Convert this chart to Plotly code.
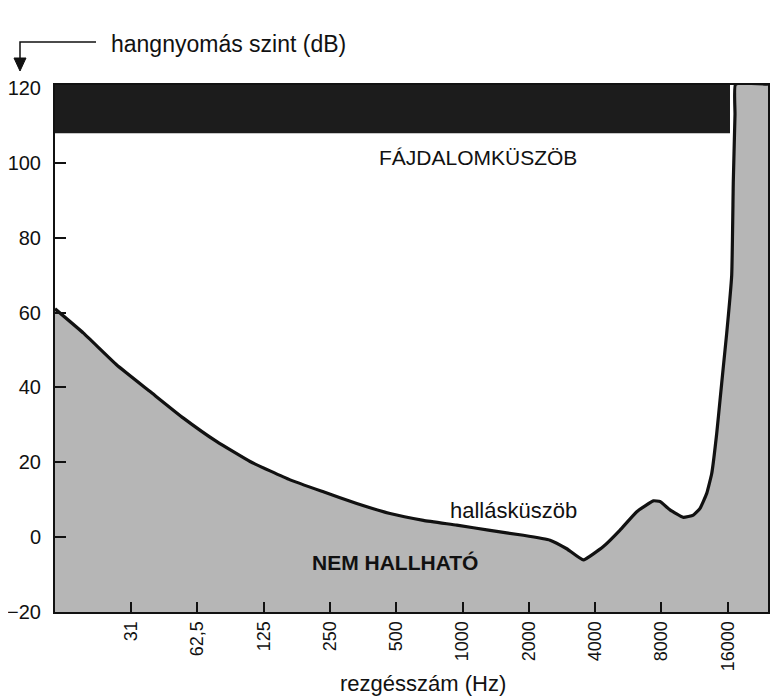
import math
import plotly.graph_objects as go

# Hearing threshold curve
freq_hz = [14.1, 19.0, 26.9, 38.1, 54.0, 76.6, 108.4, 164.8, 233.3, 330.8,
           468.6, 663.8, 941.3, 1333, 1888, 2496, 2972, 3537, 4358, 5190,
           6181, 7350, 7882, 8753, 10057, 11166, 11978, 12847, 13535, 14260,
           14762, 15281, 15833, 16681, 16962, 17266, 17359, 24380]
threshold_db = [61, 54.5, 46, 38.9, 31.8, 25.5, 20.2, 15.3, 12.1, 9.0,
                6.3, 4.5, 3.2, 1.8, 0.5, -0.8, -3.1, -6.1, -2.5, 1.9,
                6.8, 9.7, 9.5, 7.3, 5.3, 5.9, 7.7, 11.7, 17, 27.7,
                36.6, 45.5, 54.5, 70, 95, 113, 121, 121]

# Pain threshold band (dB)
pain_low_db = 107.9
axis_top_db = 120.8
floor_db = -20

tick_freqs = [31.25, 62.5, 125, 250, 500, 1000, 2000, 4000, 8000, 16000]
tick_labels = ["31", "62,5", "125", "250", "500", "1000", "2000", "4000", "8000", "16000"]
y_ticks = [-20, 0, 20, 40, 60, 80, 100, 120]

FONT = "Liberation Sans, Arial, sans-serif"

# screen-pixel helpers -> paper coords (plot area spans x 55..768, y 85..612 on screen)
def px(sx):
    return (sx - 55) / 713.0

def py(sy):
    return (612 - sy) / 527.0

fig = go.Figure()
fig.add_trace(go.Scatter(x=[freq_hz[0], freq_hz[-1]], y=[floor_db, floor_db],
                         mode="lines", line=dict(width=0), hoverinfo="skip",
                         showlegend=False))
fig.add_trace(go.Scatter(x=freq_hz, y=threshold_db, mode="lines",
                         line=dict(color="#111111", width=3.2, shape="spline", smoothing=0.35),
                         fill="tonexty", fillcolor="#b6b6b6", showlegend=False))

shapes = [
    # pain band
    dict(type="rect", xref="paper", yref="y", x0=0, x1=px(730), y0=pain_low_db, y1=axis_top_db,
         fillcolor="#1c1c1c", line=dict(width=0), layer="above"),
    # title arrow
    dict(type="path", xref="paper", yref="paper",
         path="M %f %f L %f %f L %f %f" % (px(96), py(42), px(20), py(42), px(20), py(58)),
         line=dict(color="#111111", width=1.5)),
    dict(type="path", xref="paper", yref="paper",
         path="M %f %f L %f %f L %f %f Z" % (px(14), py(58), px(26), py(58), px(20), py(71)),
         fillcolor="#111111", line=dict(color="#111111", width=1)),
]

annotations = [
    dict(text="hangnyomás szint (dB)", xref="paper", yref="paper",
         x=px(228), y=py(44), xanchor="center", yanchor="middle", showarrow=False,
         font=dict(family=FONT, size=23, color="#111111")),
    dict(text="FÁJDALOMKÜSZÖB", xref="paper", yref="paper",
         x=px(478), y=py(157), xanchor="center", yanchor="middle", showarrow=False,
         font=dict(family=FONT, size=21, color="#111111")),
    dict(text="hallásküszöb", xref="paper", yref="paper",
         x=px(513), y=py(510), xanchor="center", yanchor="middle", showarrow=False,
         font=dict(family=FONT, size=22, color="#111111")),
    dict(text="<b>NEM HALLHATÓ</b>", xref="paper", yref="paper",
         x=px(395), y=py(562), xanchor="center", yanchor="middle", showarrow=False,
         font=dict(family=FONT, size=21, color="#111111")),
    dict(text="rezgésszám (Hz)", xref="paper", yref="paper",
         x=px(423), y=py(683), xanchor="center", yanchor="middle", showarrow=False,
         font=dict(family=FONT, size=22, color="#111111")),
]

fig.update_layout(
    width=784, height=697,
    margin=dict(l=47, r=24, t=77, b=93, autoexpand=False),
    paper_bgcolor="white", plot_bgcolor="white",
    shapes=shapes, annotations=annotations,
    showlegend=False,
)
fig.update_xaxes(type="log", range=[math.log10(freq_hz[0]), math.log10(freq_hz[-1])],
                 tickvals=tick_freqs, ticktext=tick_labels, tickangle=-90,
                 ticks="inside", ticklen=10, tickwidth=2, tickcolor="#111111",
                 showline=True, linecolor="#111111", linewidth=2, mirror=True,
                 showgrid=False, zeroline=False, automargin=False,
                 tickfont=dict(family=FONT, size=18, color="#111111"))
fig.update_yaxes(range=[floor_db, axis_top_db], tickvals=y_ticks,
                 ticks="inside", ticklen=11, tickwidth=2, tickcolor="#111111",
                 showline=True, linecolor="#111111", linewidth=2, mirror=True,
                 showgrid=False, zeroline=False, ticklabelstandoff=8, automargin=False,
                 tickfont=dict(family=FONT, size=20, color="#111111"))

fig.write_html("out.html")
